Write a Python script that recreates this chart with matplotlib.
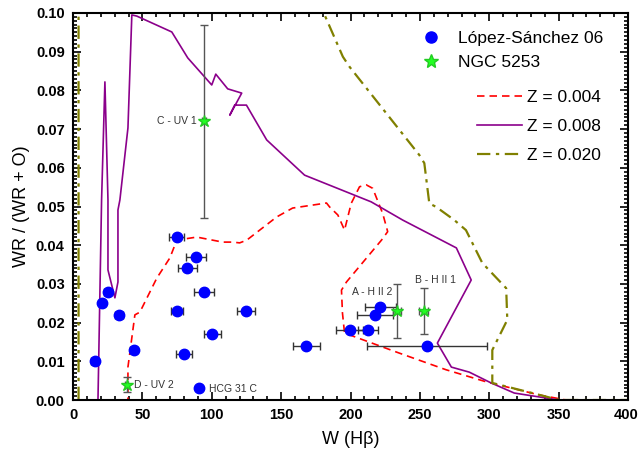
import matplotlib
matplotlib.use("Agg")
import matplotlib.pyplot as plt
from matplotlib.lines import Line2D
from matplotlib.ticker import MultipleLocator
from matplotlib.transforms import ScaledTranslation
import numpy as np

plt.rcParams['font.family'] = ['Liberation Sans', 'DejaVu Sans']

# López-Sánchez 06 points
ls_x = [74.6, 88.5, 82.5, 94.5, 75.1, 124.5, 100.5, 79.9, 168.1, 199.3,
        25.0, 20.9, 32.9, 43.9, 15.6, 90.7, 212.5, 221.4, 217.8, 255.2]
ls_y = [0.042, 0.037, 0.034, 0.028, 0.023, 0.023, 0.017, 0.012, 0.014, 0.018,
        0.028, 0.025, 0.022, 0.013, 0.010, 0.003, 0.018, 0.024, 0.022, 0.014]
ls_xerr = [5.4, 7.2, 6.8, 7.4, 4.4, 6.6, 6.4, 5.6, 9.6, 9.6,
           2.3, 2.0, 2.8, 2.5, 2.4, 0.0, 7.2, 11.2, 13.0, 43.0]

# NGC 5253 regions
ngc_x = [94.3, 38.6, 233.3, 252.8]
ngc_y = [0.072, 0.004, 0.023, 0.023]
ngc_xerr = [1.5, 1.0, 3.0, 3.2]
ngc_yerr = [0.025, 0.002, 0.007, 0.006]
ngc_labels = ["C - UV 1", "D - UV 2", "A - H II 2", "B - H II 1"]

# Model tracks
z004_x = [0, 39.6, 39.6, 44.6, 48.2, 60.4, 69.8, 74.8, 89.2, 107.9, 115.1, 120.1,
          125.2, 146.8, 158.3, 182.7, 184.9, 190.9, 195.7, 200.5, 206.5, 211.3,
          216.0, 223.2, 226.8, 222.3, 197.1, 193.5, 194.2, 195.7, 235.3, 269.0,
          297.8, 336.0, 355.4, 400]
z004_y = [0, 0, 0.0085, 0.022, 0.0227, 0.0315, 0.0367, 0.0413, 0.0421, 0.0408,
          0.0408, 0.0406, 0.0413, 0.0473, 0.0496, 0.0509, 0.0499, 0.0478, 0.0439,
          0.0508, 0.0551, 0.0556, 0.0547, 0.0482, 0.0435, 0.0413, 0.0305, 0.0284,
          0.0225, 0.0173, 0.0121, 0.0078, 0.0047, 0.0013, 0, 0]

z008_x = [18.0, 20.6, 23.0, 25.2, 25.2, 30.2, 32.4, 32.4, 33.8, 39.6, 42.4, 46.0,
          71.2, 82.7, 100.0, 102.9, 111.5, 121.6, 113.0, 116.5, 125.0, 139.6,
          166.9, 214.9, 237.6, 276.3, 287.0, 262.6, 272.7, 285.6, 301.4, 318.0,
          350.0, 400]
z008_y = [0, 0.0517, 0.0822, 0.0517, 0.0336, 0.0264, 0.0305, 0.0491, 0.0517,
          0.0703, 0.0995, 0.0992, 0.0951, 0.0884, 0.0814, 0.0842, 0.0804, 0.0793,
          0.0736, 0.0762, 0.0762, 0.0672, 0.0581, 0.0512, 0.0465, 0.0393, 0.0310,
          0.0147, 0.0085, 0.0072, 0.0044, 0.0018, 0, 0]

z020_x = [4.0, 4.0, 162.0, 180.6, 194.5, 199.3, 249.6, 253.2, 256.8, 261.7, 274.8,
          283.2, 295.0, 312.2, 313.0, 302.2, 302.2, 331.0, 350.4, 400]
z020_y = [0, 0.115, 0.115, 0.1001, 0.0887, 0.0861, 0.0633, 0.0612, 0.0508, 0.0499,
          0.0465, 0.0439, 0.0354, 0.0289, 0.0207, 0.0129, 0.0044, 0.0018, 0, 0]

x_ticks = [0, 50, 100, 150, 200, 250, 300, 350, 400]
y_ticks = [0.00, 0.01, 0.02, 0.03, 0.04, 0.05, 0.06, 0.07, 0.08, 0.09, 0.10]

fig = plt.figure(figsize=(6.4, 4.57), dpi=100)
ax = fig.add_axes([73/640, 1-400/457, 555/640, 387/457])

ax.plot(z004_x, z004_y, color='red', ls=(0, (4.5, 3)), lw=1.2, zorder=2)
ax.plot(z008_x, z008_y, color='#8B008B', ls='-', lw=1.2, zorder=2)
ax.plot(z020_x, z020_y, color='#808000', ls=(0, (6, 2.5, 1.5, 2.5)), lw=1.6, zorder=2)

ax.errorbar(ls_x, ls_y, xerr=ls_xerr, fmt='none', ecolor='#333333', elinewidth=1.0,
            capsize=3, capthick=1.0, zorder=3)
ax.plot(ls_x, ls_y, 'o', color='blue', ms=7.5, mec='blue', zorder=4)

ax.errorbar(ngc_x, ngc_y, xerr=ngc_xerr, yerr=ngc_yerr, fmt='none', ecolor='#555555',
            elinewidth=1.0, capsize=3, capthick=1.0, zorder=3)
ax.plot(ngc_x, ngc_y, '*', color='#22ff22', ms=9, mec='#22cc22', zorder=5)

tk = dict(fontsize=7.5, color='#333333')
ax.text(ngc_x[0] - 5, ngc_y[0], ngc_labels[0], ha='right', va='center', **tk)
ax.text(ngc_x[1] + 5.5, ngc_y[1], ngc_labels[1], ha='left', va='center', **tk)
ax.text(201, 0.0279, ngc_labels[2], ha='left', va='center', **tk)
ax.text(246.8, 0.0311, ngc_labels[3], ha='left', va='center', **tk)
ax.text(97.8, ls_y[15] - 0.0002, "HCG 31 C", ha='left', va='center', **tk)

ax.set_xlim(0, 400)
ax.set_ylim(0, 0.10)
ax.set_xticks(x_ticks)
ax.set_yticks(y_ticks)
ax.set_yticklabels([f"{v:.2f}" for v in y_ticks])
ax.xaxis.set_minor_locator(MultipleLocator(10))
ax.yaxis.set_minor_locator(MultipleLocator(0.001))
ax.tick_params(which='both', direction='in', top=True, right=True, width=1.2)
ax.tick_params(which='major', length=6)
ax.tick_params(which='minor', length=3)
ax.tick_params(axis='x', labelsize=10.5, pad=6)
ax.tick_params(axis='y', labelsize=10.5, pad=6)
for lab in ax.get_xticklabels() + ax.get_yticklabels():
    lab.set_fontweight('bold')
last = ax.get_xticklabels()[-1]
last.set_horizontalalignment('right')
last.set_transform(last.get_transform() + ScaledTranslation(11/100, 0, fig.dpi_scale_trans))
for s in ax.spines.values():
    s.set_linewidth(1.5)

ax.set_xlabel("W (Hβ)", fontsize=13, labelpad=6)
ax.set_ylabel("WR / (WR + O)", fontsize=13, labelpad=4)

h1 = [Line2D([], [], ls='none', marker='o', color='blue', ms=8),
      Line2D([], [], ls='none', marker='*', color='#22ff22', mec='#22cc22', ms=10)]
leg1 = ax.legend(h1, ["López-Sánchez 06", "NGC 5253"], loc='upper left',
                 bbox_to_anchor=((402-73)/555, 1 - (15-13)/387), frameon=False,
                 fontsize=12.5, handletextpad=0.8, labelspacing=0.5, handlelength=1.5)
ax.add_artist(leg1)
h2 = [Line2D([], [], color='red', ls=(0, (4.5, 3)), lw=1.2),
      Line2D([], [], color='#8B008B', ls='-', lw=1.2),
      Line2D([], [], color='#808000', ls=(0, (6, 2.5, 1.5, 2.5)), lw=1.6)]
ax.legend(h2, ["Z = 0.004", "Z = 0.008", "Z = 0.020"], loc='upper left',
          bbox_to_anchor=((461-73)/555, 1 - (74-13)/387), frameon=False,
          fontsize=12.5, handletextpad=0.3, labelspacing=0.8, handlelength=2.6)

fig.savefig("out.png", dpi=100)
